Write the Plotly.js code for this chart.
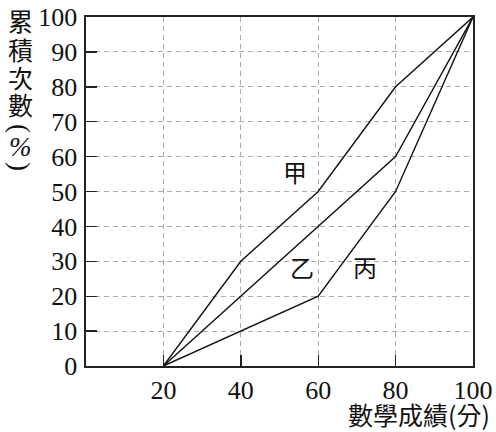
<!DOCTYPE html>
<html>
<head>
<meta charset="utf-8">
<script src="https://cdn.plot.ly/plotly-3.0.1.min.js"></script>
<style>
  html, body { margin: 0; padding: 0; background: #fff; }
  #chart { width: 496px; height: 432px; position: relative; z-index: 1; }
  #warm { position: absolute; left: 100px; top: 100px; z-index: 0; color: #fff; white-space: pre; }
  #warm span.s { font: 20px "Liberation Serif"; }
  #warm span.c { font: 20px "Noto Sans CJK TC"; }
</style>
</head>
<body>
<div id="warm"><span class="s">0</span><span class="c">累</span><pre id="dbg" style="font:10px monospace;margin:0"></pre></div>
<div id="chart"></div>
<script>
const scores = [20, 40, 60, 80, 100];
const jia = [0, 30, 50, 80, 100];   // 甲
const yi = [0, 20, 40, 60, 100];    // 乙
const bing = [0, 10, 20, 50, 100];  // 丙

const seriesNames = ["甲", "乙", "丙"];
const labelX = [54, 55.7, 72];
const labelY = [55.6, 28.4, 28.4];

const xTicks = [20, 40, 60, 80, 100];
const yTicks = [0, 10, 20, 30, 40, 50, 60, 70, 80, 90, 100];

// vertical y title, one glyph per row (parens get rotated)
const yTitleChars = ["累", "積", "次", "數", "(", "%", ")"];
const yTitleRows = [20, 49, 77, 104, 128, 147, 166];

const cjk = "Noto Sans CJK TC";
const serif = "Liberation Serif";

function line(y, name) {
    return {
        x: scores,
        y: y,
        name: name,
        type: "scatter",
        mode: "lines",
        line: { color: "#111", width: 1.4 },
        hoverinfo: "skip"
    };
}

const data = [line(jia, "甲"), line(yi, "乙"), line(bing, "丙")];

const labels = seriesNames.map((n, i) => ({
    x: labelX[i], y: labelY[i], xref: "x", yref: "y",
    text: n, showarrow: false,
    font: { family: cjk, size: 24, color: "#111" }
}));

const yTitle = yTitleChars.map((c, i) => {
    const latin = c === "(" || c === ")" || c === "%";
    return {
        xref: "paper", yref: "paper", x: 0, y: 1,
        xanchor: "center", yanchor: "middle",
        xshift: -66, yshift: 17 - yTitleRows[i],
        text: c, showarrow: false,
        textangle: (c === "(" || c === ")") ? 90 : 0,
        font: {
            family: latin ? serif : cjk,
            size: latin ? 27 : 25,
            style: c === "%" ? "italic" : "normal",
            color: "#111"
        }
    };
});

const axisCommon = {
    showline: true,
    linecolor: "#222",
    linewidth: 1.6,
    mirror: true,
    ticks: "inside",
    ticklen: 11,
    tickwidth: 1.4,
    tickcolor: "#222",
    showgrid: true,
    gridcolor: "#aaa",
    gridwidth: 1,
    griddash: "5px,4px",
    zeroline: false,
    tickfont: { family: serif, size: 26, color: "#111" },
    fixedrange: true
};

const layout = {
    width: 496,
    height: 432,
    margin: { l: 86, r: 23, t: 17, b: 66 },
    paper_bgcolor: "#fff",
    plot_bgcolor: "#fff",
    showlegend: false,
    xaxis: Object.assign({}, axisCommon, {
        range: [0, 100],
        tickvals: xTicks,
        ticktext: xTicks.map(String),
        ticklabelstandoff: 0
    }),
    yaxis: Object.assign({}, axisCommon, {
        range: [0, 100],
        tickvals: yTicks,
        ticktext: yTicks.map(String),
        ticklabelstandoff: 2
    }),
    annotations: labels.concat(yTitle, [
        {
            xref: "paper", yref: "paper", x: 1, y: 0,
            xanchor: "right", yanchor: "middle",
            xshift: 19, yshift: -48,
            text: "數學成績(分)",
            showarrow: false,
            font: { family: cjk, size: 25, color: "#111" }
        }
    ])
};

Plotly.newPlot("chart", data, layout, { staticPlot: true })
    .then(gd => { document.getElementById("dbg").textContent = "v" + Plotly.version; })
    .catch(e => console.error(e));
</script>
</body>
</html>
